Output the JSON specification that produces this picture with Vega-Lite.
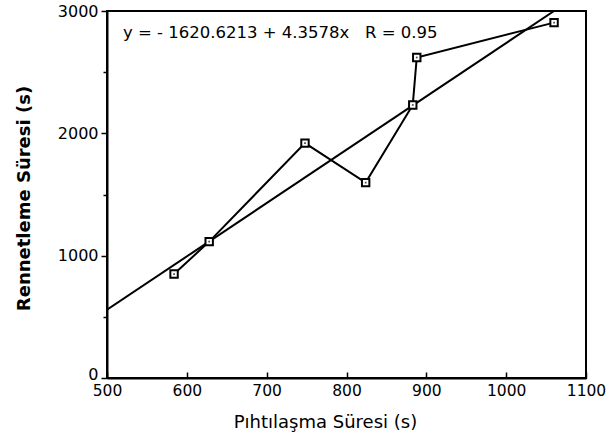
{
  "$schema": "https://vega.github.io/schema/vega-lite/v6.json",
  "width": 479,
  "height": 367,
  "autosize": {"type": "none"},
  "padding": {"left": 107, "top": 11, "right": 30, "bottom": 59},
  "background": "white",
  "config": {
    "view": {"stroke": "black", "strokeWidth": 2},
    "font": "DejaVu Sans",
    "axis": {"grid": false, "domainColor": "black", "domainWidth": 2, "tickColor": "black", "tickWidth": 1.5, "labelColor": "black", "titleColor": "black", "labelFont": "DejaVu Sans", "titleFont": "DejaVu Sans", "labelFlush": false}
  },
  "datasets": {
    "obs": [
      {"p": 584, "r": 850},
      {"p": 628, "r": 1115},
      {"p": 748, "r": 1920},
      {"p": 824, "r": 1597},
      {"p": 883, "r": 2232},
      {"p": 888, "r": 2620},
      {"p": 1060, "r": 2905}
    ],
    "fit": [
      {"p": 500, "r": 558},
      {"p": 1060, "r": 3000}
    ],
    "note": [
      {"p": 520, "r": 2820, "t": "y = - 1620.6213 + 4.3578x \u00a0\u00a0R = 0.95"}
    ]
  },
  "layer": [
    {
      "data": {"name": "fit"},
      "mark": {"type": "line", "color": "black", "strokeWidth": 2, "clip": true},
      "encoding": {
        "x": {"field": "p", "type": "quantitative", "scale": {"domain": [500, 1100], "nice": false},
          "axis": {"title": "Pıhtılaşma Süresi (s)", "titleFontSize": 18, "titleFontWeight": "normal",
            "titleX": 218, "titleY": 44, "titleBaseline": "middle", "titleAlign": "center",
            "values": [500, 550, 600, 650, 700, 750, 800, 850, 900, 950, 1000, 1050, 1100],
            "labelExpr": "datum.value % 100 === 0 ? datum.label : ''",
            "tickSize": {"expr": "datum.value % 100 === 0 ? -6 : -4"},
            "labelPadding": 11, "labelFontSize": 15.5, "format": "d"}},
        "y": {"field": "r", "type": "quantitative", "scale": {"domain": [0, 3000], "nice": false},
          "axis": {"title": "Rennetleme Süresi (s)", "titleFontSize": 18, "titleFontWeight": "bold",
            "titleX": -83, "titleY": 187, "titleBaseline": "middle", "titleAlign": "center", "titleAngle": -90,
            "values": [0, 500, 1000, 1500, 2000, 2500, 3000],
            "labelExpr": "datum.value % 1000 === 0 ? datum.label : ''",
            "tickSize": {"expr": "datum.value % 1000 === 0 ? 6 : 4"},
            "labelOffset": {"expr": "datum.value === 0 ? -4 : 0"},
            "labelPadding": 3, "labelFontSize": 16, "format": "d"}}
      }
    },
    {
      "data": {"name": "obs"},
      "mark": {"type": "line", "color": "black", "strokeWidth": 2},
      "encoding": {
        "x": {"field": "p", "type": "quantitative"},
        "y": {"field": "r", "type": "quantitative"},
        "order": {"field": "p"}
      }
    },
    {
      "data": {"name": "obs"},
      "mark": {"type": "point", "shape": "square", "size": 55, "filled": true, "fill": "white", "stroke": "black", "strokeWidth": 2, "opacity": 1},
      "encoding": {
        "x": {"field": "p", "type": "quantitative"},
        "y": {"field": "r", "type": "quantitative"}
      }
    },
    {
      "data": {"name": "obs"},
      "mark": {"type": "point", "shape": "square", "size": 3, "filled": true, "color": "black"},
      "encoding": {
        "x": {"field": "p", "type": "quantitative"},
        "y": {"field": "r", "type": "quantitative"}
      }
    },
    {
      "data": {"name": "note"},
      "mark": {"type": "text", "align": "left", "baseline": "middle", "fontSize": 16.5, "color": "black", "font": "DejaVu Sans"},
      "encoding": {
        "x": {"field": "p", "type": "quantitative"},
        "y": {"field": "r", "type": "quantitative"},
        "text": {"field": "t"}
      }
    }
  ]
}
